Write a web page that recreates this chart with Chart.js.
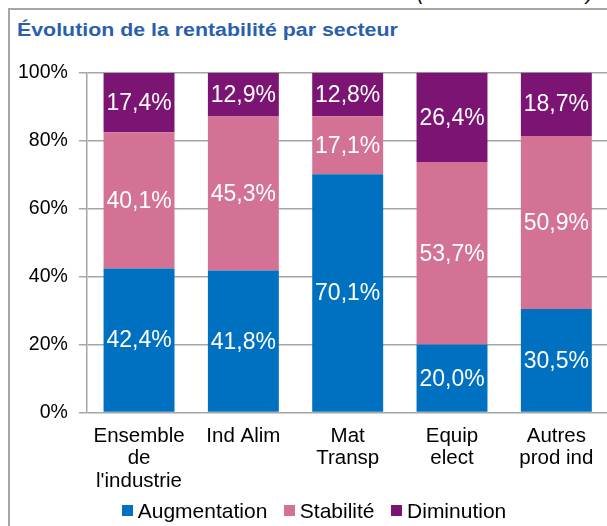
<!DOCTYPE html>
<html lang="fr">
  <head>
    <meta charset="UTF-8" />
    <title>Évolution de la rentabilité par secteur</title>
    <script src="https://cdn.jsdelivr.net/npm/chart.js"></script>
    <style>
      body,
      html {
        margin: 0;
        width: 607px;
        height: 526px;
        overflow: hidden;
        background: #fff;
        font-family: "Liberation Sans", Arial, sans-serif;
      }
      .box {
        position: absolute;
        left: 8px;
        top: 8px;
        width: 640px;
        height: 560px;
        border-left: 2px solid #a6a6a6;
        border-top: 2px solid #a6a6a6;
      }
      .unit {
        position: absolute;
        right: 14px;
        top: -17px;
        font-size: 20px;
        font-style: italic;
        line-height: 20px;
        color: #000;
      }
      h1 {
        position: absolute;
        left: 17px;
        top: 20px;
        margin: 0;
        font-size: 17.5px;
        line-height: 20px;
        font-weight: bold;
        color: #2b5fad;
        transform: scaleX(1.22);
        transform-origin: left center;
        white-space: nowrap;
      }
      #wrap {
        position: absolute;
        left: -2.5px;
        top: 50px;
        width: 622.5px;
        height: 476px;
      }
      #legend {
        position: absolute;
        left: 0;
        top: 500px;
        width: 628px;
        display: flex;
        justify-content: center;
        align-items: center;
        gap: 16.5px;
        font-size: 21px;
        line-height: 21px;
        color: #000;
      }
      #legend span.item {
        display: flex;
        align-items: center;
        gap: 5px;
      }
      #legend i {
        display: inline-block;
        width: 11px;
        height: 11px;
      }
    </style>
  </head>
  <body>
    <div class="unit">(Soldes bruts en %)</div>
    <div class="box"></div>
    <h1>Évolution de la rentabilité par secteur</h1>
    <div id="wrap"><canvas id="myChart"></canvas></div>
    <div id="legend"></div>
    <script>
      const categories = [["Ensemble", "de", "l'industrie"], "Ind Alim", ["Mat", "Transp"], ["Equip", "elect"], ["Autres", "prod ind"]];
      const augmentation = [42.4, 41.8, 70.1, 20.0, 30.5];
      const stabilite = [40.1, 45.3, 17.1, 53.7, 50.9];
      const diminution = [17.4, 12.9, 12.8, 26.4, 18.7];
      const yTicks = [0, 20, 40, 60, 80, 100];

      const font = "'Liberation Sans', Arial, sans-serif";

      // white value labels centred in each segment
      const valueLabels = {
        id: "valueLabels",
        afterDatasetsDraw(chart) {
          const ctx = chart.ctx;
          ctx.save();
          ctx.fillStyle = "#fff";
          ctx.font = "23px " + font;
          ctx.textAlign = "center";
          ctx.textBaseline = "middle";
          chart.data.datasets.forEach((ds, i) => {
            chart.getDatasetMeta(i).data.forEach((bar, j) => {
              const txt = ds.data[j].toFixed(1).replace(".", ",") + "%";
              ctx.fillText(txt, bar.x, (bar.y + bar.base) / 2 + 1);
            });
          });
          ctx.restore();
        },
      };

      const ctx = document.getElementById("myChart").getContext("2d");
      const chart = new Chart(ctx, {
        type: "bar",
        data: {
          labels: categories,
          datasets: [
            { label: "Augmentation", data: augmentation, backgroundColor: "#0070c0" },
            { label: "Stabilité", data: stabilite, backgroundColor: "#d37294" },
            { label: "Diminution", data: diminution, backgroundColor: "#7b1472" },
          ],
        },
        options: {
          responsive: true,
          maintainAspectRatio: false,
          animation: false,
          layout: { padding: { left: 9, right: 12, top: 15, bottom: 29 } },
          datasets: { bar: { categoryPercentage: 1, barPercentage: 0.68 } },
          plugins: {
            tooltip: { enabled: false },
            legend: { display: false },
          },
          scales: {
            x: {
              stacked: true,
              grid: { display: false },
              border: { display: false },
              ticks: {
                color: "#000",
                padding: 5,
                maxRotation: 0,
                autoSkip: false,
                font: { family: font, size: 20.5, lineHeight: 1.08 },
              },
            },
            y: {
              stacked: true,
              min: 0,
              max: 100,
              afterBuildTicks: (axis) => {
                axis.ticks = yTicks.map((v) => ({ value: v }));
              },
              grid: { color: "#a6a6a6", lineWidth: 1.5, tickLength: 8 },
              border: { color: "#a6a6a6", width: 1.5 },
              ticks: {
                color: "#000",
                padding: 11,
                font: { family: font, size: 19.5 },
                callback: (v) => v + "%",
              },
            },
          },
        },
        plugins: [valueLabels],
      });

      // legend built from the datasets
      const legend = document.getElementById("legend");
      chart.data.datasets.forEach((ds) => {
        const item = document.createElement("span");
        item.className = "item";
        const sw = document.createElement("i");
        sw.style.background = ds.backgroundColor;
        item.appendChild(sw);
        item.appendChild(document.createTextNode(ds.label));
        legend.appendChild(item);
      });
    </script>
  </body>
</html>
